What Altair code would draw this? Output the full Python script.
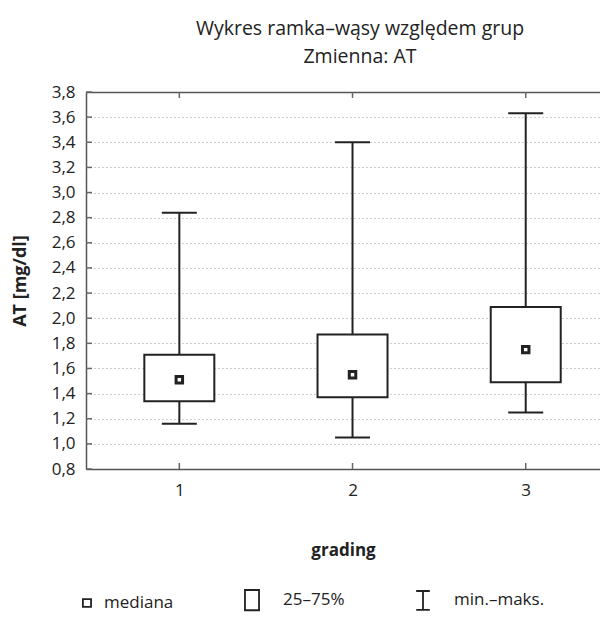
import altair as alt
import pandas as pd

# ---- data ----
groups = [1, 2, 3]
mins = [1.16, 1.05, 1.25]
q1s = [1.34, 1.37, 1.49]
medians = [1.51, 1.55, 1.75]
q3s = [1.71, 1.87, 2.09]
maxs = [2.84, 3.40, 3.63]
y_ticks = [0.8, 1.0, 1.2, 1.4, 1.6, 1.8, 2.0, 2.2, 2.4, 2.6, 2.8, 3.0, 3.2, 3.4, 3.6, 3.8]
legend_labels = ["mediana", "25–75%", "min.–maks."]

df = pd.DataFrame({"grading": groups, "mn": mins, "q1": q1s, "med": medians, "q3": q3s, "mx": maxs})
ticks_df = pd.DataFrame({"v": y_ticks})
legend_df = pd.DataFrame({"item": legend_labels})

FONT = "Open Sans"
INK = "#222222"
AXC = "#555555"
W, H = 514, 377

xscale = alt.Scale(domain=[0.49, 3.40], nice=False, zero=False)
yscale = alt.Scale(domain=[0.8, 3.8], nice=False, zero=False)

x_axis = alt.Axis(values=groups, format="d", title="grading", grid=False, ticks=False,
                  domainColor=AXC, domainWidth=1.5, labelPadding=13, labelFontSize=17,
                  labelFont=FONT, labelColor=INK, titleFont=FONT, titleFontSize=17,
                  titleFontWeight="bold", titleColor=INK, titlePadding=44)
y_axis = alt.Axis(values=y_ticks, title="AT [mg/dl]", grid=True, gridColor="#9a9a9a",
                  gridDash=[1, 3], gridWidth=1, ticks=False, domainColor=AXC, domainWidth=1.5,
                  labelPadding=11, labelFontSize=17, labelFont=FONT, labelColor=INK,
                  labelExpr="replace(format(datum.value, '.1f'), '.', ',')",
                  titleFont=FONT, titleFontSize=18, titleFontWeight="bold", titleColor=INK,
                  titlePadding=22)

X = alt.X("grading:Q", scale=xscale, axis=x_axis)
Xn = alt.X("grading:Q", scale=xscale, axis=None)

base = alt.Chart(df)

whisker = base.mark_rule(color=INK, strokeWidth=2).encode(
    x=X, y=alt.Y("mn:Q", scale=yscale, axis=y_axis), y2="mx:Q")
cap_lo = base.mark_tick(orient="horizontal", size=35, thickness=2, color=INK, opacity=1).encode(
    x=Xn, y=alt.Y("mn:Q", scale=yscale, axis=y_axis))
cap_hi = base.mark_tick(orient="horizontal", size=35, thickness=2, color=INK, opacity=1).encode(
    x=Xn, y=alt.Y("mx:Q", scale=yscale, axis=y_axis))
box = base.mark_bar(size=70, fill="white", stroke=INK, strokeWidth=2).encode(
    x=Xn, y=alt.Y("q1:Q", scale=yscale, axis=y_axis), y2="q3:Q")
med = base.mark_point(shape="square", size=42, filled=True, fill="white", stroke=INK,
                      strokeWidth=3, opacity=1).encode(
    x=Xn, y=alt.Y("med:Q", scale=yscale, axis=y_axis))

ytick_marks = alt.Chart(ticks_df).mark_rule(color="#666666", strokeWidth=1.5).encode(
    y=alt.Y("v:Q", scale=yscale, axis=y_axis), x=alt.value(0), x2=alt.value(6))

top_axis = alt.Axis(orient="top", values=groups, labels=False, ticks=False, grid=False,
                    title=None, domainColor=AXC, domainWidth=1.5)
xtick_bottom = base.mark_rule(color="#666666", strokeWidth=1.5).encode(
    x=Xn, y=alt.value(H - 6), y2=alt.value(H))
xtick_top = base.mark_rule(color="#666666", strokeWidth=1.5).encode(
    x=alt.X("grading:Q", scale=xscale, axis=top_axis), y=alt.value(0), y2=alt.value(6))

median_path = "M0.9,-0.36H1.64V0.36H0.9Z"
box_path = "M-0.64,-0.92H0.64V0.92H-0.64Z"
whisk_path = "M-0.62,-0.86H0.62M0,-0.86V0.86M-0.62,0.86H0.62"

legend_layer = alt.Chart(legend_df).mark_point(opacity=0, filled=False).encode(
    shape=alt.Shape("item:N",
                    scale=alt.Scale(domain=legend_labels, range=[median_path, box_path, whisk_path]),
                    sort=legend_labels,
                    legend=alt.Legend(orient="none", legendX=-25, legendY=496, direction="horizontal",
                                      columns=3, columnPadding=66, title=None,
                                      symbolSize=484, symbolStrokeColor=INK, symbolFillColor="white",
                                      symbolStrokeWidth=1.8, symbolOpacity=1, labelOffset=19,
                                      labelFont=FONT, labelFontSize=17, labelColor=INK,
                                      labelLimit=0)))

chart = alt.layer(
    whisker, cap_lo, cap_hi, box, med, ytick_marks, xtick_bottom, xtick_top, legend_layer
).resolve_axis(x="independent").properties(
    width=W, height=H,
    autosize=alt.AutoSizeParams(type="none"),
    padding={"left": 78, "top": 84, "right": 0, "bottom": 160},
    title=alt.TitleParams(text=["Wykres ramka–wąsy względem grup", "Zmienna: AT"],
                          font=FONT, fontSize=19.5, fontWeight="normal", color=INK,
                          lineHeight=28, anchor="middle", dx=17, offset=16),
).configure_view(stroke=None).configure(background="white")

chart.save("out.html", embed_options={"renderer": "svg", "actions": False})
